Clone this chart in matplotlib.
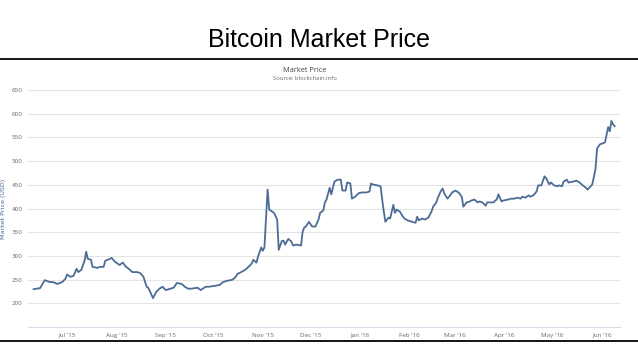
import matplotlib
matplotlib.use("Agg")
import matplotlib.pyplot as plt
import matplotlib.dates as mdates
from matplotlib.lines import Line2D
import pandas as pd

# daily market price (USD)
dates = [
    "2015-06-10", "2015-06-14", "2015-06-17", "2015-06-20", "2015-06-22", "2015-06-25",
    "2015-06-28", "2015-06-30", "2015-07-01", "2015-07-03", "2015-07-05", "2015-07-07",
    "2015-07-08", "2015-07-10", "2015-07-12", "2015-07-13", "2015-07-14", "2015-07-16",
    "2015-07-17", "2015-07-20", "2015-07-22", "2015-07-24", "2015-07-25", "2015-07-28",
    "2015-07-29", "2015-07-31", "2015-08-03", "2015-08-05", "2015-08-07", "2015-08-08",
    "2015-08-11", "2015-08-14", "2015-08-16", "2015-08-18", "2015-08-20", "2015-08-21",
    "2015-08-22", "2015-08-24", "2015-08-26", "2015-08-28", "2015-08-30", "2015-09-01",
    "2015-09-04", "2015-09-06", "2015-09-08", "2015-09-11", "2015-09-13", "2015-09-15",
    "2015-09-17", "2015-09-21", "2015-09-23", "2015-09-26", "2015-09-28", "2015-10-02",
    "2015-10-05", "2015-10-07", "2015-10-09", "2015-10-13", "2015-10-15", "2015-10-16",
    "2015-10-19", "2015-10-21", "2015-10-23", "2015-10-25", "2015-10-26", "2015-10-28",
    "2015-10-29", "2015-10-31", "2015-11-01", "2015-11-02", "2015-11-03", "2015-11-04",
    "2015-11-05", "2015-11-08", "2015-11-10", "2015-11-11", "2015-11-13", "2015-11-14",
    "2015-11-15", "2015-11-17", "2015-11-19", "2015-11-20", "2015-11-22", "2015-11-25",
    "2015-11-26", "2015-11-27", "2015-11-28", "2015-11-30", "2015-12-02", "2015-12-04",
    "2015-12-06", "2015-12-07", "2015-12-09", "2015-12-10", "2015-12-11", "2015-12-13",
    "2015-12-14", "2015-12-15", "2015-12-16", "2015-12-18", "2015-12-20", "2015-12-21",
    "2015-12-23", "2015-12-24", "2015-12-26", "2015-12-27", "2015-12-29", "2015-12-31",
    "2016-01-02", "2016-01-04", "2016-01-05", "2016-01-07", "2016-01-08", "2016-01-09",
    "2016-01-12", "2016-01-14", "2016-01-15", "2016-01-16", "2016-01-17", "2016-01-19",
    "2016-01-20", "2016-01-22", "2016-01-23", "2016-01-24", "2016-01-26", "2016-01-28",
    "2016-01-29", "2016-01-31", "2016-02-03", "2016-02-05", "2016-02-06", "2016-02-07",
    "2016-02-09", "2016-02-11", "2016-02-13", "2016-02-15", "2016-02-16", "2016-02-18",
    "2016-02-19", "2016-02-21", "2016-02-22", "2016-02-23", "2016-02-25", "2016-02-26",
    "2016-02-28", "2016-03-01", "2016-03-03", "2016-03-05", "2016-03-06", "2016-03-08",
    "2016-03-10", "2016-03-11", "2016-03-13", "2016-03-15", "2016-03-16", "2016-03-18",
    "2016-03-20", "2016-03-21", "2016-03-23", "2016-03-25", "2016-03-26", "2016-03-27",
    "2016-03-28", "2016-03-30", "2016-03-31", "2016-04-03", "2016-04-05", "2016-04-07",
    "2016-04-09", "2016-04-11", "2016-04-12", "2016-04-14", "2016-04-16", "2016-04-17",
    "2016-04-19", "2016-04-21", "2016-04-22", "2016-04-24", "2016-04-26", "2016-04-27",
    "2016-04-29", "2016-04-30", "2016-05-02", "2016-05-04", "2016-05-05", "2016-05-07",
    "2016-05-08", "2016-05-10", "2016-05-11", "2016-05-14", "2016-05-16", "2016-05-18",
    "2016-05-20", "2016-05-22", "2016-05-23", "2016-05-25", "2016-05-26", "2016-05-28",
    "2016-05-29", "2016-05-31", "2016-06-02", "2016-06-03", "2016-06-05", "2016-06-06",
    "2016-06-07", "2016-06-08", "2016-06-09",
]
prices = [
    230, 232, 249, 245, 245, 241,
    245, 252, 261, 256, 258, 273,
    266, 271, 290, 309, 294, 292,
    277, 275, 277, 277, 290, 294,
    296, 288, 281, 286, 277, 275,
    266, 266, 264, 256, 235, 233,
    226, 211, 224, 231, 235, 228,
    231, 233, 243, 241, 235, 231,
    231, 233, 228, 235, 235, 237,
    239, 245, 247, 250, 256, 262,
    267, 271, 277, 284, 292, 286,
    299, 318, 311, 318, 378, 440,
    398, 391, 377, 313, 332, 332,
    324, 336, 330, 322, 324, 322,
    351, 360, 362, 372, 362, 362,
    377, 391, 396, 413, 419, 444,
    430, 444, 457, 461, 461, 438,
    438, 455, 453, 421, 425, 432,
    434, 434, 434, 436, 453, 451,
    449, 447, 419, 394, 372, 381,
    379, 408, 391, 398, 394, 383,
    379, 375, 372, 370, 383, 375,
    379, 377, 381, 394, 404, 413,
    423, 438, 442, 432, 421, 425,
    434, 438, 434, 425, 404, 413,
    415, 417, 419, 413, 415, 413,
    406, 413, 413, 413, 417, 419,
    430, 415, 417, 419, 421, 421,
    423, 421, 425, 423, 428, 425,
    428, 436, 449, 449, 468, 464,
    451, 455, 449, 447, 449, 447,
    457, 461, 455, 457, 459, 455,
    449, 444, 440, 447, 451, 483,
    527, 536, 538, 540, 572, 563,
    585, 578, 574,
]
y_ticks = [200, 250, 300, 350, 400, 450, 500, 550, 600, 650]

df = pd.DataFrame({"date": pd.to_datetime(dates), "price": prices})

fig = plt.figure(figsize=(6.38, 3.59), dpi=100)
ax = fig.add_axes([0.044, 0.089, 0.928, 0.660])

ax.plot(df["date"], df["price"], color="#4c6c96", lw=1.3)

ax.set_ylim(150, 650)
ax.set_yticks(y_ticks)
ax.set_xlim(pd.Timestamp("2015-06-06 12:00"), pd.Timestamp("2016-06-12 12:00"))
ax.xaxis.set_major_locator(mdates.MonthLocator())
ax.xaxis.set_major_formatter(mdates.DateFormatter("%b '%y"))

ax.grid(axis="y", color="#e4e4e4", lw=0.8)
ax.set_axisbelow(True)
for s in ["top", "right", "left"]:
    ax.spines[s].set_visible(False)
ax.spines["bottom"].set_color("#d6dde8")
ax.spines["bottom"].set_linewidth(0.8)
ax.tick_params(length=0, labelsize=4.5, labelcolor="#666666")
ax.tick_params(axis="y", pad=4)
ax.tick_params(axis="x", pad=4)
ax.set_ylabel("Market Price (USD)", fontsize=4.6, color="#4d6d99", labelpad=4)

for lbl in ax.get_xticklabels() + ax.get_yticklabels():
    lbl.set_fontfamily("Open Sans")

fig.text(0.478, 0.805, "Market Price", ha="center", va="center",
         fontsize=5.3, color="#444444", family="Open Sans")
fig.text(0.478, 0.780, "Source: blockchain.info", ha="center", va="center",
         fontsize=4.2, color="#666666", family="Open Sans")

fig.text(0.5, 0.888, "Bitcoin Market Price", ha="center", va="center",
         fontsize=18, color="black", family="Liberation Sans")

fig.add_artist(Line2D([0, 1], [1 - 59 / 359, 1 - 59 / 359], color="black", lw=1.3,
                      transform=fig.transFigure))
fig.add_artist(Line2D([0, 1], [1 - 341 / 359, 1 - 341 / 359], color="black", lw=1.3,
                      transform=fig.transFigure))

fig.savefig("out.png", dpi=100, facecolor="white")
